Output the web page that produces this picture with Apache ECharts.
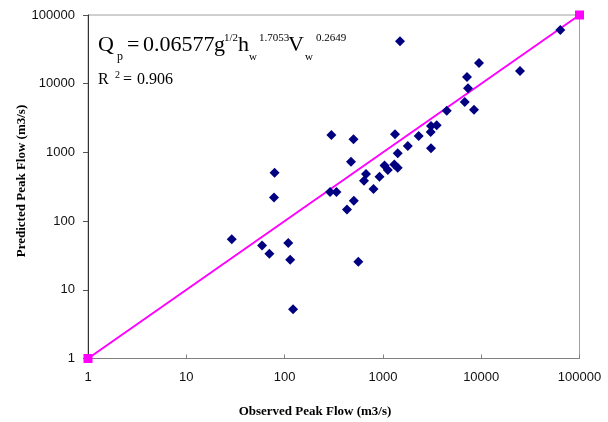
<!DOCTYPE html>
<html><head><meta charset="utf-8">
<script src="https://cdn.jsdelivr.net/npm/echarts@6/dist/echarts.min.js"></script>
<style>html,body{margin:0;padding:0;background:#fff}#c{width:608px;height:422px}</style>
</head><body><div id="c"></div>
<script>
// Observed vs predicted peak flow (m3/s)
const observed = [29, 59, 70, 109, 114, 122, 79, 78, 299, 502, 474, 290, 337, 506, 431, 562, 673, 642, 802, 923, 1038, 1122, 1306, 1415, 1327, 1415, 1792, 2313, 3086, 3064, 3526, 3086, 1493, 63800, 9500, 24800, 7170, 7340, 6800, 8450, 4460];
const predicted = [54.5, 44, 33.4, 48, 27.3, 5.2, 505, 221, 1787, 1548, 730, 266, 266, 197, 147, 25.5, 483, 386, 294, 442, 643, 553, 665, 597, 1830, 968, 1236, 1729, 2417, 1977, 2475, 1148, 41400, 60400, 20000, 15300, 12500, 8560, 5410, 4180, 4040];
// 1:1 line
const lineX = [1, 100000];
const lineY = [1, 100000];
const tickLabels = ['1', '10', '100', '1000', '10000', '100000'];
const xTitle = 'Observed Peak Flow (m3/s)';
const yTitle = 'Predicted Peak Flow (m3/s)';

const chart = echarts.init(document.getElementById('c'), null, {renderer: 'canvas'});
const fmt = v => { const i = Math.round(Math.log10(v)); return tickLabels[i] !== undefined ? tickLabels[i] : ''; };
const serif = '"Liberation Serif","Times New Roman",serif';
const sans = '"Liberation Sans",Arial,sans-serif';
function t(text, x, baseline, size, extra) {
  return Object.assign({type: 'text', x: x, y: baseline - 0.3375 * size, silent: true,
    style: {text: text, font: size + 'px ' + serif, fill: '#000', align: 'left', verticalAlign: 'middle'}}, extra || {});
}
chart.setOption({
  animation: false,
  backgroundColor: '#fff',
  grid: {left: 88, right: 28.5, top: 15, bottom: 63.5, show: true, borderColor: '#a0a0a0', borderWidth: 1, containLabel: false},
  xAxis: {
    type: 'log', logBase: 10, min: 1, max: 100000,
    axisLine: {show: true, lineStyle: {color: '#808080', width: 1}},
    axisTick: {show: true, inside: true, length: 4, lineStyle: {color: '#808080'}},
    axisLabel: {formatter: fmt, margin: 12, fontFamily: sans, fontSize: 13, color: '#111'},
    splitLine: {show: false}, minorTick: {show: false}
  },
  yAxis: {
    type: 'log', logBase: 10, min: 1, max: 100000,
    axisLine: {show: true, lineStyle: {color: '#333', width: 1}},
    axisTick: {show: true, inside: false, length: 5, lineStyle: {color: '#555'}},
    axisLabel: {formatter: fmt, margin: 13, fontFamily: sans, fontSize: 13, color: '#111'},
    splitLine: {show: false}, minorTick: {show: false}
  },
  series: [
    {type: 'line', data: lineX.map((x, i) => [x, lineY[i]]), symbol: 'rect', symbolSize: 9, showSymbol: true,
     clip: false, z: 3, lineStyle: {color: '#ff00ff', width: 2}, itemStyle: {color: '#ff00ff'}},
    {type: 'scatter', data: observed.map((x, i) => [x, predicted[i]]), symbol: 'diamond', symbolSize: 10,
     z: 4, itemStyle: {color: '#000080', opacity: 1}}
  ],
  graphic: [
    t('Q', 98, 52.3, 22),
    t('p', 117, 61, 12),
    t('=', 127, 52.3, 22),
    t('0.06577', 143, 52.3, 22),
    t('g', 214, 52.3, 22),
    t('1/2', 224, 41.5, 11),
    t('h', 238, 52.3, 22),
    t('w', 249, 61, 11),
    t('1.7053', 259, 41.5, 11),
    t('V', 288, 52.3, 22),
    t('w', 305, 61, 11),
    t('0.2649', 316, 41.5, 11),
    t('R', 98, 85, 16),
    t('2', 115, 78.5, 10),
    t('=', 123, 85, 16),
    t('0.906', 137, 85, 16),
    {type: 'text', x: 315, y: 412, silent: true,
     style: {text: xTitle, font: 'bold 13px ' + serif, fill: '#000', align: 'center', verticalAlign: 'middle'}},
    {type: 'text', x: 22, y: 181, rotation: Math.PI / 2, silent: true,
     style: {text: yTitle, font: 'bold 13px ' + serif, fill: '#000', align: 'center', verticalAlign: 'middle'}}
  ]
});
</script></body></html>
